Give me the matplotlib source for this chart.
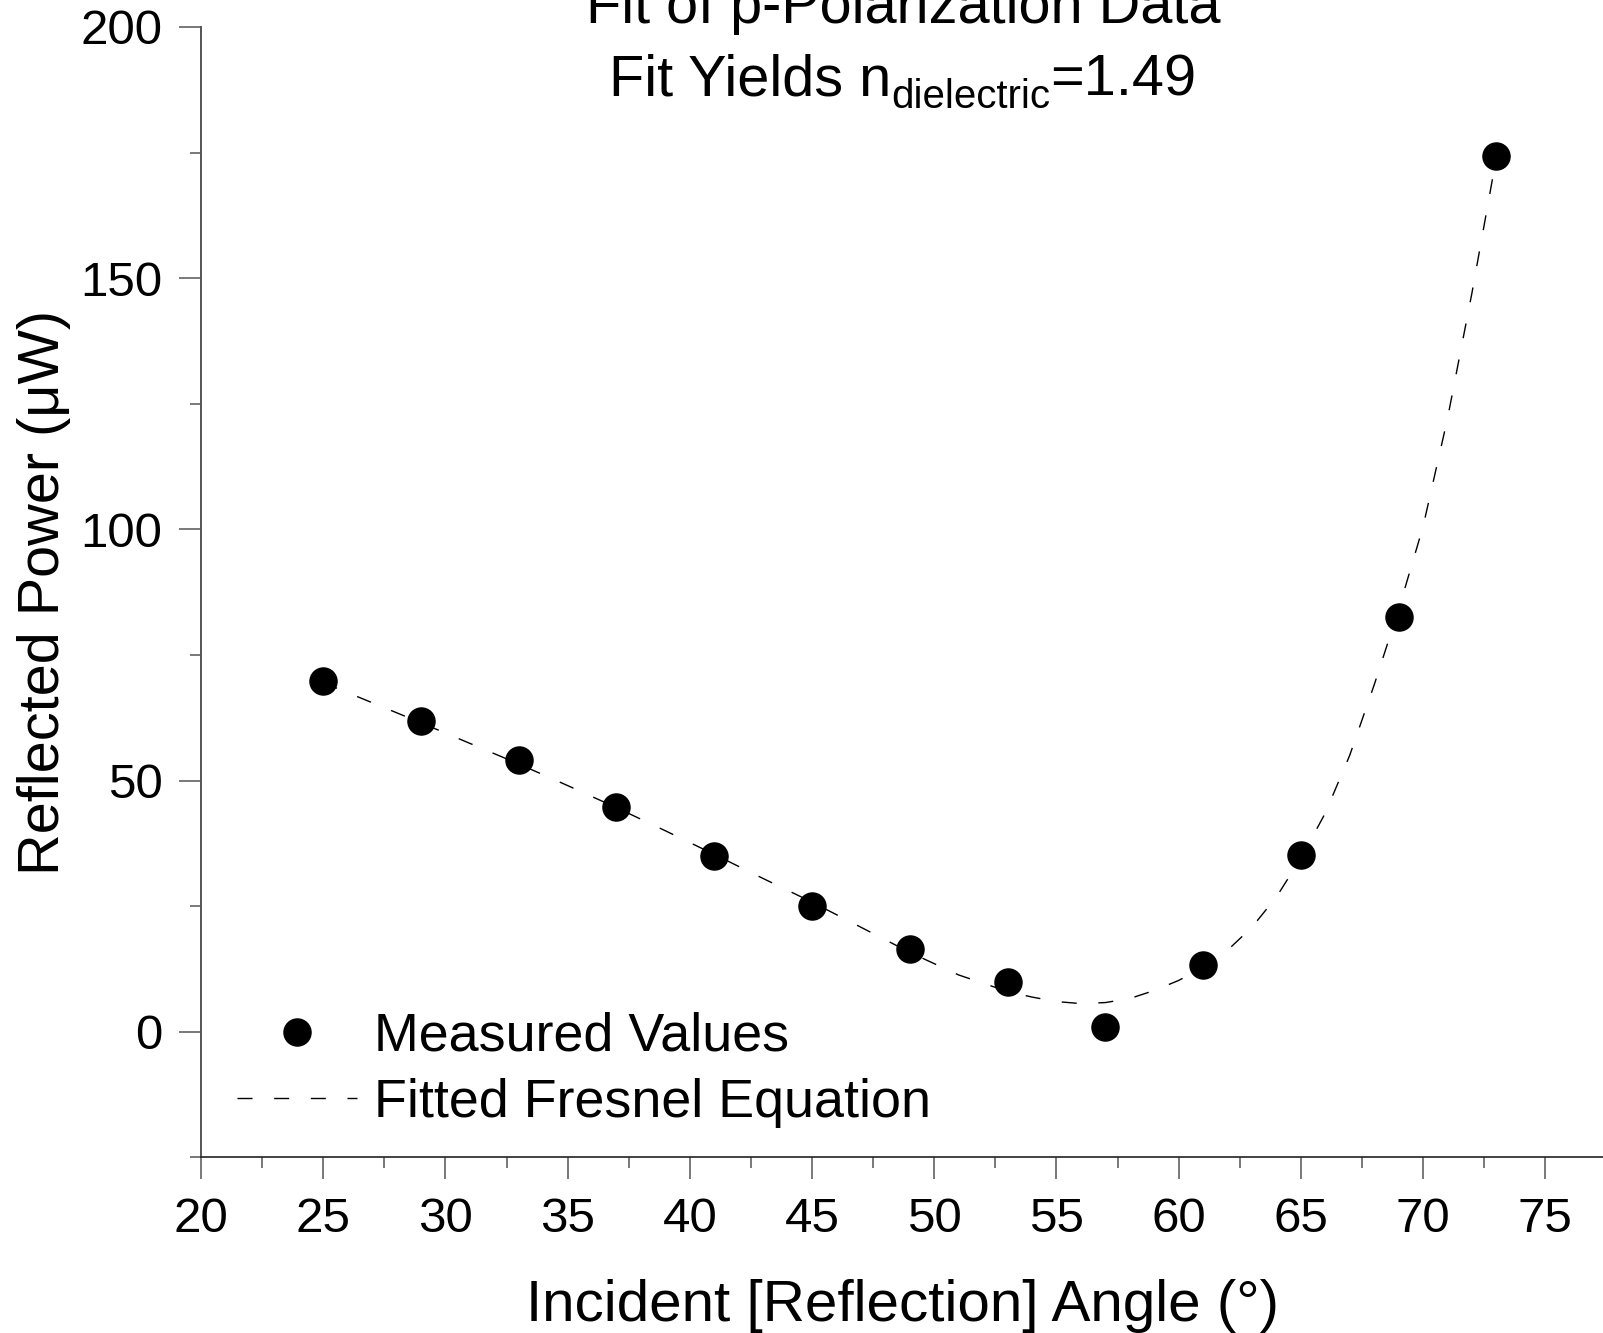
import matplotlib
matplotlib.use("Agg")
import matplotlib.pyplot as plt
from matplotlib.lines import Line2D
from matplotlib.ticker import MultipleLocator

plt.rcParams['font.family'] = ['Liberation Sans', 'DejaVu Sans']

# Measured data
angles_meas = [25, 29, 33, 37, 41, 45, 49, 53, 57, 61, 65, 69, 73]
power_meas = [69.9, 61.9, 54.0, 44.8, 35.0, 25.1, 16.5, 9.8, 1.0, 13.2, 35.2, 82.5, 174.3]

# Fitted Fresnel curve
angles_fit = [25, 27, 29, 31, 33, 35, 37, 39, 41, 43, 45, 47, 49, 51, 53, 54, 55, 56,
              57, 58, 59, 60, 61, 62, 63, 64, 65, 66, 67, 68, 69, 70, 71, 72, 73]
power_fit = [69.5, 65.5, 61.5, 57.4, 53.3, 49.0, 44.6, 40.0, 35.3, 30.5, 25.8, 20.8,
             15.8, 11.3, 8.0, 6.9, 6.0, 5.6, 5.8, 6.6, 8.2, 10.2, 12.8, 16.2, 20.8,
             26.8, 34.5, 43.5, 55.0, 69.0, 84.0, 100.5, 122.0, 147.0, 174.0]

x_ticks = [20, 25, 30, 35, 40, 45, 50, 55, 60, 65, 70, 75]
y_ticks = [0, 50, 100, 150, 200]

W, H = 1603, 1333
fig = plt.figure(figsize=(W / 100, H / 100), dpi=100)
ax_left, ax_right, ax_top, ax_bot = 201, 1603, 27, 1157.3
ax = fig.add_axes([ax_left / W, 1 - ax_bot / H, (ax_right - ax_left) / W, (ax_bot - ax_top) / H])

ax.plot(angles_fit, power_fit, color='black', lw=1.0, dashes=(10.8, 15.6),
        label='Fitted Fresnel Equation', zorder=2)
ax.plot(angles_meas, power_meas, 'o', color='black', ms=19.5, mec='black',
        label='Measured Values', zorder=3, clip_on=False)

ax.set_xlim(20, 20 + (ax_right - ax_left) / 24.44)
ax.set_ylim(-25, 200)

for s in ('top', 'right'):
    ax.spines[s].set_visible(False)
ax.spines['left'].set_color('#555555')
ax.spines['left'].set_linewidth(1.4)
ax.spines['bottom'].set_color('#222222')
ax.spines['bottom'].set_linewidth(1.2)

ax.set_xticks(x_ticks)
ax.set_yticks(y_ticks)
ax.xaxis.set_minor_locator(MultipleLocator(2.5))
ax.yaxis.set_minor_locator(MultipleLocator(25))
ax.tick_params(which='major', length=15.8, width=1.1, color='#555555', labelsize=35.5)
ax.tick_params(which='minor', length=7.9, width=1.1, color='#555555')
ax.tick_params(axis='x', which='major', pad=12.5)
ax.tick_params(axis='y', which='major', pad=12)

ax.set_xlabel('Incident [Reflection] Angle (°)', fontsize=42)
ax.xaxis.label.set_verticalalignment('baseline')
ax.xaxis.set_label_coords(0.5, (ax_bot - 1320.7) / (ax_bot - ax_top))

ax.set_ylabel('Reflected Power (μW)', fontsize=41.5)
ax.yaxis.label.set_rotation_mode('anchor')
ax.yaxis.label.set_verticalalignment('baseline')
ax.yaxis.label.set_horizontalalignment('center')
ax.yaxis.set_label_coords((59 - ax_left) / (ax_right - ax_left), 0.5)

# Title (two lines, the first cut at the top edge as in the original)
cx = 903
fig.text(cx / W, 1 - 23 / H, 'Fit of p-Polarization Data', ha='center', va='baseline',
         fontsize=41.5)
base2 = 95
parts = [('Fit Yields n', 41.5, 0), ('dielectric', 29, 13), ('=1.49', 41.5, 0)]
texts = [fig.text(0, 1 - (base2 + dy) / H, s, ha='left', va='baseline', fontsize=fs)
         for s, fs, dy in parts]
renderer = fig.canvas.get_renderer()
widths = [t.get_window_extent(renderer=renderer).width for t in texts]
x0 = cx - sum(widths) / 2
for t, w in zip(texts, widths):
    t.set_x(x0 / W)
    x0 += w

handles = [Line2D([], [], marker='o', ls='none', color='black', ms=19.5),
           Line2D([], [], color='black', lw=1.0, dashes=(10.8, 15.6))]
ax.legend(handles, ['Measured Values', 'Fitted Fresnel Equation'], loc='upper left',
          bbox_to_anchor=(237 / W, 1 - 1011.5 / H), bbox_transform=fig.transFigure,
          frameon=False, fontsize=38.8, handlelength=2.23, handletextpad=0.31,
          labelspacing=0.3, borderpad=0, borderaxespad=0, numpoints=1)

fig.savefig('out.png', dpi=100)
